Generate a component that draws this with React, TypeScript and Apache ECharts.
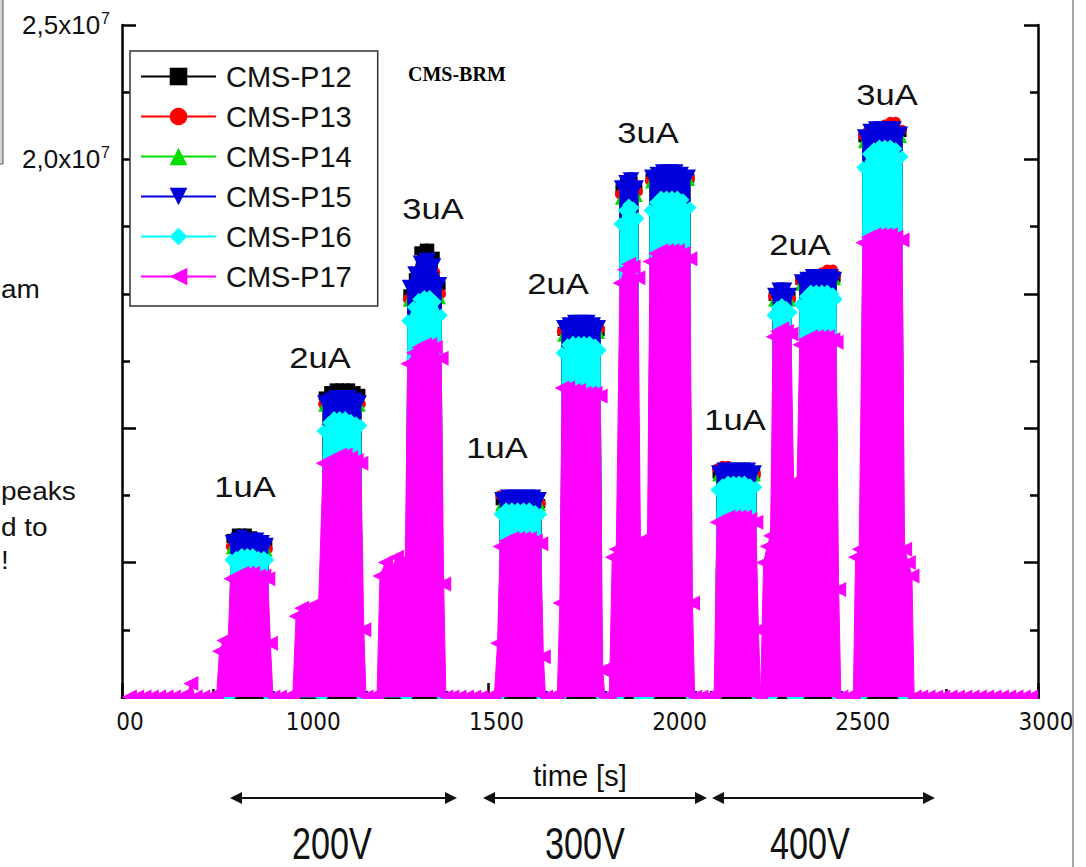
import React, { useEffect, useRef } from 'react';
import * as echarts from 'echarts';

// ---------------- data (values in units of 10^7) ----------------
const SERIES_NAMES = ['CMS-P12', 'CMS-P13', 'CMS-P14', 'CMS-P15', 'CMS-P16', 'CMS-P17'];

const X_MIN = 500;
const X_MAX = 3000;
const X_STEP = 500;
const Y_MIN = 0;
const Y_MAX = 2.5;
const Y_STEP = 0.5;

// sample times (s) of each beam-on plateau
const COLUMN_TIMES = [
  [797, 812, 827, 842, 857, 872, 887, 898],
  [1049, 1064, 1079, 1094, 1109, 1124, 1139, 1152],
  [1280, 1295, 1310, 1325, 1340, 1355, 1371],
  [1532, 1548, 1564, 1580, 1596, 1612, 1628, 1643],
  [1701, 1716, 1731, 1746, 1761, 1776, 1791, 1805],
  [1859, 1871, 1883, 1895, 1908],
  [1941, 1956, 1971, 1986, 2001, 2016, 2031, 2050],
  [2124, 2139, 2154, 2169, 2184, 2199, 2214, 2230],
  [2277, 2289, 2301, 2313, 2326],
  [2350, 2365, 2380, 2395, 2410, 2425, 2440, 2449],
  [2522, 2537, 2552, 2567, 2582, 2597, 2612, 2629],
];

const P12_LEVELS = [
  [0.59, 0.61, 0.61, 0.61, 0.60, 0.59, 0.58, 0.57],
  [1.12, 1.14, 1.15, 1.15, 1.15, 1.15, 1.14, 1.13],
  [1.50, 1.56, 1.66, 1.67, 1.67, 1.64, 1.53],
  [0.73, 0.74, 0.74, 0.74, 0.74, 0.74, 0.73, 0.72],
  [1.36, 1.38, 1.38, 1.38, 1.38, 1.38, 1.37, 1.36],
  [1.89, 1.91, 1.92, 1.92, 1.89],
  [1.93, 1.95, 1.95, 1.95, 1.95, 1.95, 1.94, 1.93],
  [0.83, 0.84, 0.84, 0.84, 0.84, 0.84, 0.84, 0.83],
  [1.49, 1.50, 1.51, 1.50, 1.49],
  [1.55, 1.56, 1.56, 1.56, 1.57, 1.57, 1.57, 1.56],
  [2.08, 2.10, 2.11, 2.11, 2.11, 2.11, 2.11, 2.10],
];

const P13_LEVELS = [
  [0.56, 0.57, 0.58, 0.57, 0.57, 0.56, 0.56, 0.55],
  [1.09, 1.10, 1.11, 1.11, 1.11, 1.10, 1.10, 1.09],
  [1.48, 1.54, 1.58, 1.60, 1.60, 1.58, 1.50],
  [0.75, 0.74, 0.73, 0.74, 0.74, 0.74, 0.73, 0.72],
  [1.36, 1.37, 1.38, 1.38, 1.38, 1.39, 1.38, 1.37],
  [1.87, 1.90, 1.91, 1.91, 1.88],
  [1.92, 1.94, 1.95, 1.95, 1.95, 1.95, 1.94, 1.93],
  [0.85, 0.86, 0.86, 0.85, 0.85, 0.85, 0.84, 0.83],
  [1.49, 1.51, 1.52, 1.51, 1.48],
  [1.55, 1.56, 1.57, 1.57, 1.58, 1.59, 1.59, 1.57],
  [2.09, 2.11, 2.12, 2.12, 2.13, 2.14, 2.14, 2.11],
];

const P14_LEVELS = [
  [0.55, 0.56, 0.56, 0.56, 0.56, 0.55, 0.55, 0.54],
  [1.08, 1.09, 1.10, 1.10, 1.10, 1.09, 1.09, 1.08],
  [1.47, 1.53, 1.57, 1.59, 1.59, 1.57, 1.48],
  [0.71, 0.72, 0.72, 0.72, 0.73, 0.73, 0.72, 0.71],
  [1.34, 1.36, 1.37, 1.37, 1.37, 1.37, 1.36, 1.35],
  [1.85, 1.88, 1.89, 1.89, 1.86],
  [1.91, 1.93, 1.94, 1.94, 1.94, 1.94, 1.93, 1.92],
  [0.82, 0.83, 0.84, 0.84, 0.84, 0.84, 0.83, 0.82],
  [1.47, 1.49, 1.50, 1.49, 1.47],
  [1.53, 1.54, 1.55, 1.55, 1.56, 1.56, 1.56, 1.55],
  [2.06, 2.08, 2.09, 2.09, 2.10, 2.10, 2.10, 2.08],
];

const P15_LEVELS = [
  [0.58, 0.59, 0.60, 0.59, 0.59, 0.59, 0.58, 0.57],
  [1.10, 1.11, 1.12, 1.12, 1.12, 1.12, 1.11, 1.10],
  [1.53, 1.58, 1.62, 1.63, 1.63, 1.61, 1.54],
  [0.74, 0.75, 0.75, 0.75, 0.75, 0.75, 0.75, 0.74],
  [1.38, 1.39, 1.40, 1.40, 1.40, 1.40, 1.39, 1.38],
  [1.90, 1.92, 1.93, 1.93, 1.90],
  [1.94, 1.95, 1.96, 1.96, 1.96, 1.96, 1.95, 1.94],
  [0.84, 0.85, 0.85, 0.85, 0.85, 0.85, 0.85, 0.84],
  [1.50, 1.52, 1.52, 1.52, 1.50],
  [1.55, 1.56, 1.57, 1.57, 1.57, 1.57, 1.57, 1.56],
  [2.09, 2.11, 2.12, 2.12, 2.12, 2.12, 2.12, 2.10],
];

const P16_LEVELS = [
  [0.51, 0.52, 0.53, 0.53, 0.53, 0.52, 0.52, 0.51],
  [0.99, 1.02, 1.04, 1.04, 1.04, 1.03, 1.02, 1.01],
  [1.40, 1.45, 1.48, 1.49, 1.49, 1.47, 1.42],
  [0.68, 0.70, 0.70, 0.70, 0.70, 0.70, 0.69, 0.68],
  [1.28, 1.31, 1.32, 1.32, 1.32, 1.32, 1.31, 1.29],
  [1.76, 1.81, 1.83, 1.82, 1.78],
  [1.81, 1.84, 1.86, 1.86, 1.86, 1.86, 1.85, 1.82],
  [0.77, 0.79, 0.80, 0.80, 0.80, 0.80, 0.79, 0.78],
  [1.42, 1.45, 1.46, 1.45, 1.43],
  [1.46, 1.49, 1.51, 1.51, 1.51, 1.51, 1.50, 1.48],
  [1.97, 2.02, 2.04, 2.05, 2.05, 2.05, 2.04, 2.01],
];

const P17_LEVELS = [
  [0.44, 0.45, 0.46, 0.46, 0.46, 0.45, 0.45, 0.44],
  [0.87, 0.88, 0.89, 0.90, 0.90, 0.89, 0.88, 0.87],
  [1.24, 1.28, 1.30, 1.31, 1.31, 1.30, 1.26],
  [0.56, 0.58, 0.59, 0.59, 0.59, 0.59, 0.58, 0.57],
  [1.15, 1.15, 1.14, 1.14, 1.13, 1.13, 1.13, 1.12],
  [1.54, 1.59, 1.61, 1.60, 1.56],
  [1.62, 1.65, 1.66, 1.66, 1.66, 1.66, 1.65, 1.63],
  [0.65, 0.66, 0.67, 0.67, 0.67, 0.67, 0.66, 0.65],
  [1.34, 1.36, 1.37, 1.36, 1.35],
  [1.31, 1.33, 1.34, 1.34, 1.34, 1.34, 1.33, 1.32],
  [1.69, 1.71, 1.72, 1.72, 1.72, 1.72, 1.71, 1.70],
];

// CMS-P17 samples between / around the plateaus (baseline and ramps)
const P17_LOW: [number, number][] = [
  [520, 0], [540, 0], [560, 0], [580, 0], [600, 0], [620, 0], [640, 0], [660, 0], [675, 0],
  [688, 0.05], [700, 0], [720, 0], [740, 0], [758, 0],
  [766, 0.17], [778, 0.21], [789, 0.2],
  [905, 0.2], [912, 0], [930, 0], [950, 0], [966, 0],
  [975, 0.3], [990, 0.33], [1005, 0.31], [1020, 0.34], [1036, 0.32],
  [1160, 0.25], [1166, 0], [1182, 0], [1196, 0],
  [1204, 0.45], [1219, 0.5], [1234, 0.47], [1249, 0.52], [1264, 0.49], [1273, 0.51],
  [1378, 0.42], [1384, 0], [1400, 0], [1420, 0], [1440, 0], [1460, 0], [1480, 0], [1500, 0], [1516, 0],
  [1525, 0.2],
  [1650, 0.15], [1656, 0], [1672, 0], [1688, 0],
  [1695, 0.35],
  [1812, 0.1], [1818, 0], [1830, 0],
  [1838, 0.52], [1849, 0.55],
  [1915, 0.58], [1925, 0.56], [1934, 0.57],
  [2057, 0.35], [2063, 0], [2080, 0], [2100, 0], [2116, 0],
  [2237, 0.25], [2243, 0],
  [2251, 0.5], [2261, 0.56], [2270, 0.6],
  [2333, 0.8], [2342, 0.78],
  [2456, 0.4], [2462, 0], [2480, 0], [2496, 0],
  [2502, 0.52], [2512, 0.55],
  [2636, 0.55], [2646, 0.5], [2656, 0.45], [2662, 0], [2680, 0], [2700, 0], [2720, 0], [2740, 0],
  [2760, 0], [2780, 0], [2800, 0], [2820, 0], [2840, 0], [2860, 0], [2880, 0], [2900, 0],
  [2920, 0], [2940, 0], [2960, 0], [2980, 0],
];

const CURRENT_LABELS = ['1uA', '2uA', '3uA', '1uA', '2uA', '3uA', '1uA', '2uA', '3uA'];
const VOLTAGE_LABELS = ['200V', '300V', '400V'];

// ---------------- styles ----------------
const COLORS = ['#000000', '#ff0000', '#00dd00', '#0000dd', '#00ffff', '#ff00ff'];
const SYMBOLS = ['rect', 'circle', 'triangle', 'triangle', 'diamond', 'triangle'];
const ROTATES = [0, 0, 0, 180, 0, 90];
const SIZES = [9, 10, 10, 12, 13, 15];

const SANS = '"Liberation Sans", Arial, sans-serif';

function columnsToData(levels: number[][], withEdges: boolean): [number, number][] {
  const pts: [number, number][] = [];
  COLUMN_TIMES.forEach((ts, i) => {
    if (withEdges) pts.push([ts[0] - 4, 0]);
    ts.forEach((t, j) => pts.push([t, levels[i][j]]));
    if (withEdges) pts.push([ts[ts.length - 1] + 4, 0]);
  });
  return pts;
}

export default function App() {
  const ref = useRef<HTMLDivElement>(null);

  useEffect(() => {
    if (!ref.current) return;
    const chart = echarts.init(ref.current, undefined, { renderer: 'svg' });

    const allLevels = [P12_LEVELS, P13_LEVELS, P14_LEVELS, P15_LEVELS, P16_LEVELS];
    const seriesData: [number, number][][] = allLevels.map((lv) => columnsToData(lv, true));
    seriesData.push(
      columnsToData(P17_LEVELS, false)
        .concat(P17_LOW)
        .sort((a, b) => a[0] - b[0])
    );

    const series = SERIES_NAMES.map((name, i) => ({
      type: 'line',
      name,
      z: 2 + i,
      data: seriesData[i],
      symbol: SYMBOLS[i],
      symbolSize: SIZES[i],
      symbolRotate: ROTATES[i],
      lineStyle: { color: COLORS[i], width: 1 },
      itemStyle: { color: COLORS[i] },
      areaStyle: { color: COLORS[i], opacity: 1 },
      silent: true,
      emphasis: { disabled: true },
      xAxisIndex: 0,
      yAxisIndex: 0,
    }));

    const annotPos = [
      [245, 487], [320, 358], [433, 209], [497, 448], [558, 284],
      [648, 133], [735, 420], [800, 245], [887, 95],
    ];
    const voltPos = [332, 585, 810];
    const arrows = [[230, 457], [483, 707], [712, 935]];

    const graphics: any[] = [];
    // white strip under the x axis (plot clipping of markers)
    graphics.push({ type: 'rect', z: 100, shape: { x: 100, y: 699, width: 960, height: 12 }, style: { fill: '#fff' } });
    CURRENT_LABELS.forEach((t, i) => {
      graphics.push({
        type: 'text', z: 110, x: annotPos[i][0], y: annotPos[i][1], scaleX: 1.15,
        style: { text: t, fontSize: 30, fontFamily: SANS, fill: '#111', align: 'center', verticalAlign: 'middle' },
      });
    });
    arrows.forEach(([a, b]) => {
      const y = 798;
      graphics.push({ type: 'line', z: 110, shape: { x1: a + 4, y1: y, x2: b - 4, y2: y }, style: { stroke: '#111', lineWidth: 2 } });
      graphics.push({ type: 'polygon', z: 110, shape: { points: [[a, y], [a + 12, y - 6], [a + 12, y + 6]] }, style: { fill: '#111' } });
      graphics.push({ type: 'polygon', z: 110, shape: { points: [[b, y], [b - 12, y - 6], [b - 12, y + 6]] }, style: { fill: '#111' } });
    });
    VOLTAGE_LABELS.forEach((t, i) => {
      graphics.push({
        type: 'text', z: 110, x: voltPos[i], y: 866, scaleX: 0.76,
        style: { text: t, fontSize: 45, fontFamily: SANS, fill: '#111', align: 'center', verticalAlign: 'bottom' },
      });
    });
    // fragments of the slide around the plot
    graphics.push({ type: 'rect', z: 110, shape: { x: -10, y: -10, width: 13, height: 174 }, style: { fill: '#d4d4d4', stroke: '#555', lineWidth: 1 } });
    graphics.push({ type: 'line', z: 110, shape: { x1: 1073, y1: 0, x2: 1073, y2: 867 }, style: { stroke: '#888', lineWidth: 1.5 } });
    const frags: [string, number, number][] = [['am', 1, 290], ['peaks', 1, 492], ['d to', 1, 528], ['!', 1, 561]];
    frags.forEach(([t, x, y]) => {
      graphics.push({
        type: 'text', z: 110, x, y, scaleX: 1.12,
        style: { text: t, fontSize: 25, fontFamily: SANS, fill: '#111', align: 'left', verticalAlign: 'middle' },
      });
    });

    const axisLine = { show: true, lineStyle: { color: '#000', width: 2.5 } };
    const axisTick = { show: true, inside: true, length: 14, lineStyle: { color: '#000', width: 2.5 } };
    const minorTick = { show: true, splitNumber: 2, length: 8, lineStyle: { color: '#000', width: 2.5 } };

    chart.setOption({
      animation: false,
      backgroundColor: '#fff',
      title: {
        text: 'CMS-BRM', left: 408, top: 64, padding: 0,
        textStyle: { fontFamily: '"Liberation Serif", "Times New Roman", serif', fontWeight: 'bold', fontSize: 20, color: '#000' },
      },
      legend: {
        data: SERIES_NAMES,
        orient: 'vertical',
        left: 130,
        top: 51,
        itemWidth: 75,
        itemHeight: 22,
        itemGap: 11,
        padding: [11, 26, 15, 10],
        borderColor: '#333',
        borderWidth: 1.5,
        backgroundColor: '#fff',
        selectedMode: false,
        symbolRotate: 'inherit',
        textStyle: { fontSize: 29, fontFamily: SANS, color: '#111', padding: [0, 0, 0, 5] },
      },
      grid: { left: 122, right: 48, top: 25, bottom: 170, containLabel: false },
      xAxis: [
        {
          type: 'value', min: X_MIN, max: X_MAX, interval: X_STEP, position: 'bottom',
          axisLine, axisTick, minorTick, splitLine: { show: false },
          axisLabel: {
            show: true, margin: 13, fontSize: 24, color: '#111',
            fontFamily: '"Liberation Sans Narrow", "Arial Narrow", "DejaVu Sans Condensed", "Liberation Sans", Arial',
            padding: [0, 0, 0, 16],
            showMinLabel: true, showMaxLabel: true,
            formatter: (v: number) => (v === X_MIN ? '00' : String(v)),
          },
          name: 'time [s]', nameLocation: 'middle', nameGap: 64,
          nameTextStyle: { fontSize: 29, fontFamily: SANS, color: '#111' },
        },
        {
          type: 'value', min: X_MIN, max: X_MAX, interval: X_STEP, position: 'top',
          axisLine, axisTick, minorTick, splitLine: { show: false }, axisLabel: { show: false },
        },
      ],
      yAxis: [
        {
          type: 'value', min: Y_MIN, max: Y_MAX, interval: Y_STEP, position: 'left',
          axisLine, axisTick, minorTick, splitLine: { show: false },
          axisLabel: {
            show: true, margin: 12, color: '#111', fontFamily: SANS,
            showMinLabel: true, showMaxLabel: true,
            formatter: (v: number) => {
              if (Math.abs(v - 2.5) < 1e-9) return '{a|2,5x10}{b|7}';
              if (Math.abs(v - 2.0) < 1e-9) return '{a|2,0x10}{b|7}';
              return '';
            },
            rich: {
              a: { fontSize: 26, fontFamily: SANS, color: '#111', lineHeight: 30 },
              b: { fontSize: 16, fontFamily: SANS, color: '#111', verticalAlign: 'top', lineHeight: 30, padding: [0, 0, 14, 1] },
            },
          },
        },
        {
          type: 'value', min: Y_MIN, max: Y_MAX, interval: Y_STEP, position: 'right',
          axisLine, axisTick, minorTick, splitLine: { show: false }, axisLabel: { show: false },
        },
      ],
      series,
      graphic: graphics,
    });

    return () => chart.dispose();
  }, []);

  return (
    <div
      ref={ref}
      style={{ position: 'fixed', left: 0, top: 0, width: 1086, height: 867, background: '#fff' }}
    />
  );
}
